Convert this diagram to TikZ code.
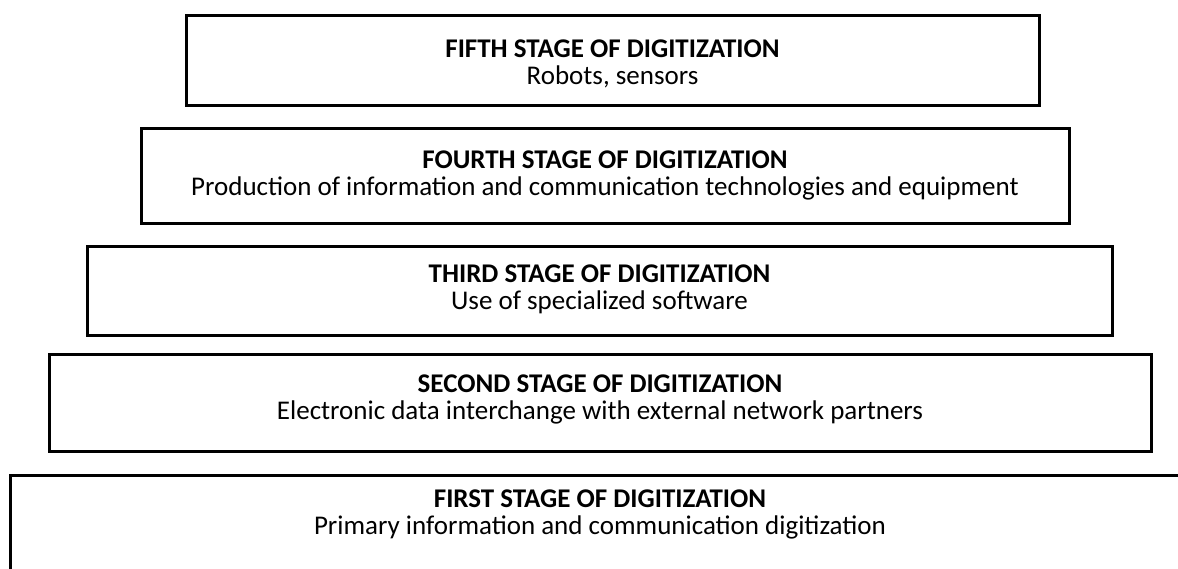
\documentclass[tikz,border=0pt]{standalone}
\usepackage{fontspec}
\setmainfont{Carlito}
\begin{document}
\begin{tikzpicture}[x=1pt,y=-1pt,
  stagebox/.style={draw=black, line width=3pt, rectangle, inner sep=0pt},
  stagetext/.style={inner sep=0pt, align=center, font=\fontsize{27}{27}\selectfont}]
\useasboundingbox (0,0) rectangle (1178,568);
\fill[white] (0,0) rectangle (1178,568);
% boxes
\node[stagebox, minimum width=853pt, minimum height=90pt] (b5) at (612.5,60) {};
\node[stagebox, minimum width=928pt, minimum height=95pt] (b4) at (605,175.5) {};
\node[stagebox, minimum width=1025pt, minimum height=89pt] (b3) at (599.5,290.5) {};
\node[stagebox, minimum width=1102pt, minimum height=97pt] (b2) at (600,402.5) {};
\node[stagebox, minimum width=1180pt, minimum height=97pt] (b1) at (600,523.5) {};
% texts
\node[stagetext] (t5) at ([yshift=-4pt]b5.center)
  {\textbf{FIFTH STAGE OF DIGITIZATION}\\Robots, sensors};
\node[stagetext] (t4) at (b4.center)
  {\textbf{FOURTH STAGE OF DIGITIZATION}\\Production of information and communication technologies and equipment};
\node[stagetext] (t3) at ([yshift=1pt]b3.center)
  {\textbf{THIRD STAGE OF DIGITIZATION}\\Use of specialized software};
\node[stagetext] (t2) at ([yshift=3pt]b2.center)
  {\textbf{SECOND STAGE OF DIGITIZATION}\\Electronic data interchange with external network partners};
\node[stagetext] (t1) at ([yshift=9pt]b1.center)
  {\textbf{FIRST STAGE OF DIGITIZATION}\\Primary information and communication digitization};
\end{tikzpicture}
\end{document}
